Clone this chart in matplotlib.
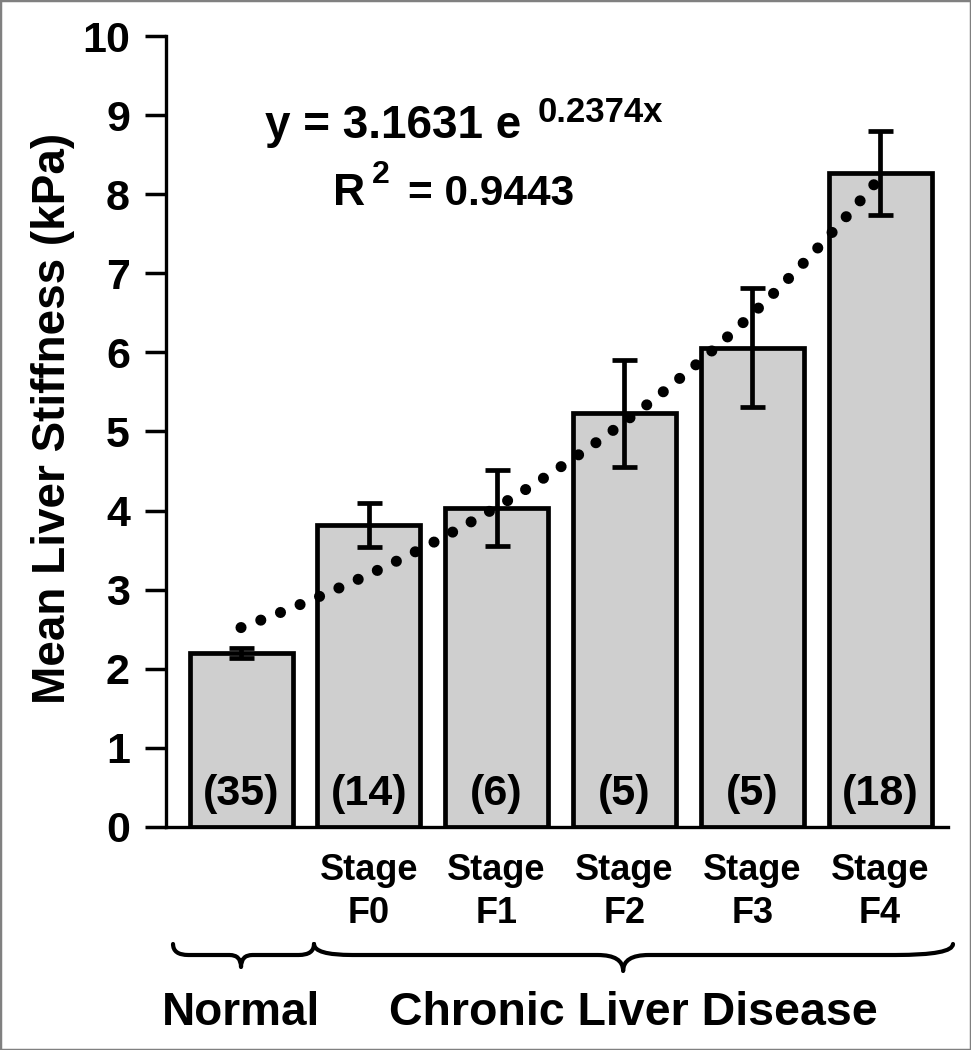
import numpy as np
import matplotlib
matplotlib.use('Agg')
import matplotlib.pyplot as plt
from matplotlib.path import Path
from matplotlib.patches import PathPatch, Rectangle
from matplotlib.transforms import blended_transform_factory

# ---------------- data ----------------
tick_labels = ['', 'Stage\nF0', 'Stage\nF1', 'Stage\nF2', 'Stage\nF3', 'Stage\nF4']
means = [2.20, 3.82, 4.03, 5.23, 6.06, 8.27]
errors = [0.06, 0.28, 0.48, 0.68, 0.75, 0.53]
counts = ['(35)', '(14)', '(6)', '(5)', '(5)', '(18)']
eq_main = 'y = 3.1631 e'
eq_exp = '0.2374x'
r2_parts = ['R', '2', '= 0.9443']
group_labels = ['Normal', 'Chronic Liver Disease']
y_label = 'Mean Liver Stiffness (kPa)'

plt.rcParams['font.family'] = ['Liberation Sans', 'DejaVu Sans']
plt.rcParams['font.weight'] = 'bold'

W, H = 971, 1050
fig = plt.figure(figsize=(W / 100, H / 100), dpi=100)
fig.patch.set_facecolor('white')


def P(px, py):
    """pixel (from top-left) -> figure fraction"""
    return px / W, 1 - py / H


ax = fig.add_axes([166 / W, 1 - 827 / H, (948 - 166) / W, (827 - 36) / H])
x = np.arange(len(means))
ax.bar(x, means, width=0.806, color='#cfcfcf', edgecolor='black',
       linewidth=3.4, zorder=2)

# exponential trend line fitted to the bar means
coef = np.polyfit(x, np.log(means), 1)
xt = np.linspace(x[0], x[-1], 300)
ax.plot(xt, np.exp(coef[1]) * np.exp(coef[0] * xt), color='black', lw=8,
        linestyle=(0, (0.001, 1.9)), dash_capstyle='round', zorder=3)

ax.errorbar(x, means, yerr=errors, fmt='none', ecolor='black', elinewidth=3.4,
            capsize=9, capthick=3.4, zorder=4)

for xi, c in zip(x, counts):
    ax.text(xi, 0.28, c, ha='center', va='baseline', fontsize=31,
            fontweight='bold', zorder=5)

ax.set_xlim(-0.587, 5.532)
ax.set_ylim(0, 10)
ax.set_yticks(range(0, 11))
ax.set_xticks(x)
ax.set_xticklabels(tick_labels, fontsize=26, fontweight='bold', linespacing=1.3)
ax.tick_params(axis='x', length=0, pad=19)
ax.tick_params(axis='y', length=15, width=2.5, pad=11, labelsize=31)
for s in ['top', 'right']:
    ax.spines[s].set_visible(False)
for s in ['left', 'bottom']:
    ax.spines[s].set_linewidth(2.4)

fig.text(*P(53, 418), y_label, rotation=90, ha='center', va='center',
         fontsize=33, fontweight='bold')

# equation text
fig.text(*P(265, 138), eq_main, ha='left', va='baseline', fontsize=33)
fig.text(*P(538, 122), eq_exp, ha='left', va='baseline', fontsize=25)
fig.text(*P(333, 205), r2_parts[0], ha='left', va='baseline', fontsize=32)
fig.text(*P(372, 183), r2_parts[1], ha='left', va='baseline', fontsize=23)
fig.text(*P(408, 205), r2_parts[2], ha='left', va='baseline', fontsize=30.5)

# group labels and braces
bt = blended_transform_factory(ax.transData, fig.transFigure)
fig.text(0.0, 1 - 1025 / H, group_labels[0], transform=bt, ha='center',
         va='baseline', fontsize=33)
fig.text(3.07, 1 - 1025 / H, group_labels[1], transform=bt, ha='center',
         va='baseline', fontsize=33.5)


def brace(x0, x1, xm, yt, yl, ytip, r0, r1, rm):
    yt, yl, ytip = [1 - v / H for v in (yt, yl, ytip)]
    verts = [(x0, yt), (x0, yl), (x0 + r0, yl),
             (xm - rm, yl), (xm, yl), (xm, ytip),
             (xm, yl), (xm + rm, yl),
             (x1 - r1, yl), (x1, yl), (x1, yt)]
    codes = [Path.MOVETO, Path.CURVE3, Path.CURVE3,
             Path.LINETO, Path.CURVE3, Path.CURVE3,
             Path.CURVE3, Path.CURVE3,
             Path.LINETO, Path.CURVE3, Path.CURVE3]
    patch = PathPatch(Path(verts, codes), transform=bt, fill=False,
                      edgecolor='black', lw=3, capstyle='round',
                      joinstyle='round', clip_on=False)
    fig.add_artist(patch)


brace(-0.532, 0.571, 0.0, 944, 955, 967, 0.12, 0.12, 0.09)
brace(0.571, 5.571, 2.99, 944, 955, 971, 0.30, 0.45, 0.20)

fig.add_artist(Rectangle((0, 0), 1, 1, transform=fig.transFigure, fill=False,
                         edgecolor='#808080', lw=2.5))

fig.savefig('out.png', dpi=100)
